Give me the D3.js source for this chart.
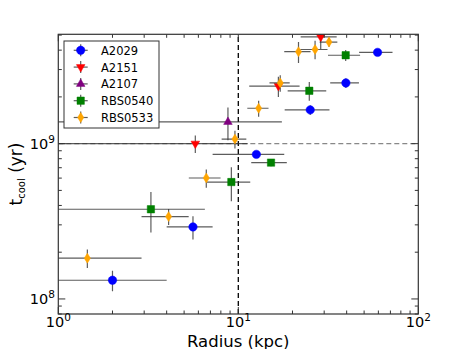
<!DOCTYPE html>
<html>
<head>
<meta charset="utf-8">
<script src="https://cdn.jsdelivr.net/npm/d3@7"></script>
<style>
  body { margin: 0; background: #fff; }
  text { font-family: "DejaVu Sans", sans-serif; fill: #000; }
</style>
</head>
<body>
<div id="chart"></div>
<script>
// values (x in kpc, y in yr)
var a2029X = [2.0, 5.6, 12.6, 25.1, 39.6, 59.4];
var a2029Y = [1.32e8, 2.91e8, 8.53e8, 1.65e9, 2.46e9, 3.87e9];
var a2029Xerr = [2.0, 1.6, 5.4, 7.0, 7.2, 12.5];
var a2029Yerr = [0.2e8, 0.5e8, 0.4e8, 0.12e9, 0.18e9, 0.1e9];

var a2151X = [5.77, 16.7, 28.7];
var a2151Y = [1.0e9, 2.35e9, 4.87e9];
var a2151Xerr = [5.5, 5.2, 6.5];
var a2151Yerr = [0.13e9, 0.35e9, 0.8e9];

var a2107X = [8.76];
var a2107Y = [1.38e9];
var a2107Xerr = [8.7];
var a2107Yerr = [0.33e9];

var rbs0540X = [3.27, 9.15, 15.2, 24.8, 39.5];
var rbs0540Y = [3.78e8, 5.66e8, 7.55e8, 2.19e9, 3.71e9];
var rbs0540Xerr = [3.25, 2.5, 3.4, 6.0, 8.0];
var rbs0540Yerr = [1.1e8, 1.4e8, 0.4e8, 0.3e9, 0.3e9];

var rbs0533X = [1.45, 4.1, 6.64, 9.58, 12.97, 17.1, 21.6, 26.7, 31.9];
var rbs0533Y = [1.83e8, 3.39e8, 6.01e8, 1.07e9, 1.69e9, 2.46e9, 3.91e9, 4.04e9, 4.51e9];
var rbs0533Xerr = [1.45, 1.2, 1.33, 1.5, 1.75, 2.2, 3.6, 4.6, 3.6];
var rbs0533Yerr = [0.25e8, 0.4e8, 0.8e8, 0.14e9, 0.2e9, 0.3e9, 0.6e9, 0.55e9, 0.3e9];

var seriesNames = ['A2029', 'A2151', 'A2107', 'RBS0540', 'RBS0533'];
var xTickExps = [0, 1, 2];
var yTickExps = [8, 9];

var width = 465, height = 349;
var margin = {top: 34.3, right: 46.7, bottom: 35, left: 58.3};

var svg = d3.select('#chart').append('svg')
    .attr('width', width)
    .attr('height', height);

var x = d3.scaleLog().domain([1, 100]).range([margin.left, width - margin.right]);
var y = d3.scaleLog().domain([8e7, 5.06e9]).range([height - margin.bottom, margin.top]);

// marker shapes
var diamond = function (s) {
    return 'M0,' + (-s * 1.6) + 'L' + s + ',0L0,' + (s * 1.6) + 'L' + (-s) + ',0Z';
};
var shapes = {
    circle: d3.symbol(d3.symbolCircle, 56)(),
    tridown: d3.symbol(d3.symbolTriangle, 32)(),
    triup: d3.symbol(d3.symbolTriangle, 32)(),
    square: d3.symbol(d3.symbolSquare, 54)(),
    diamond: diamond(3.1)
};

var series = [
    {name: seriesNames[0], color: '#0000ff', shape: 'circle', x: a2029X, y: a2029Y, xe: a2029Xerr, ye: a2029Yerr},
    {name: seriesNames[1], color: '#ff0000', shape: 'tridown', x: a2151X, y: a2151Y, xe: a2151Xerr, ye: a2151Yerr},
    {name: seriesNames[2], color: '#800080', shape: 'triup', x: a2107X, y: a2107Y, xe: a2107Xerr, ye: a2107Yerr},
    {name: seriesNames[3], color: '#008000', shape: 'square', x: rbs0540X, y: rbs0540Y, xe: rbs0540Xerr, ye: rbs0540Yerr},
    {name: seriesNames[4], color: '#ffa500', shape: 'diamond', x: rbs0533X, y: rbs0533Y, xe: rbs0533Xerr, ye: rbs0533Yerr}
];

svg.append('clipPath').attr('id', 'clip')
    .append('rect')
    .attr('x', margin.left).attr('y', margin.top)
    .attr('width', width - margin.left - margin.right)
    .attr('height', height - margin.top - margin.bottom);

var plot = svg.append('g').attr('clip-path', 'url(#clip)');

// reference lines
plot.append('line')
    .attr('x1', x(1)).attr('x2', x(100))
    .attr('y1', y(1e9)).attr('y2', y(1e9))
    .attr('stroke', '#888').attr('stroke-width', 1.3)
    .attr('stroke-dasharray', '5,3');
plot.append('line')
    .attr('x1', x(10)).attr('x2', x(10))
    .attr('y1', y.range()[0]).attr('y2', y.range()[1])
    .attr('stroke', '#000').attr('stroke-width', 1.3)
    .attr('stroke-dasharray', '5,3');

var xClamp = function (v) { return v <= 0 ? x(0.5) : x(v); };
var yClamp = function (v) { return v <= 0 ? y(1e7) : y(v); };

series.forEach(function (s) {
    var pts = s.x.map(function (d, i) {
        return {x: d, y: s.y[i], xe: s.xe[i], ye: s.ye[i]};
    });
    var g = plot.append('g');

    g.selectAll('.xerr').data(pts).enter().append('line')
        .attr('x1', function (d) { return xClamp(d.x - d.xe); })
        .attr('x2', function (d) { return x(d.x + d.xe); })
        .attr('y1', function (d) { return y(d.y); })
        .attr('y2', function (d) { return y(d.y); })
        .attr('stroke', '#333').attr('stroke-opacity', 0.8).attr('stroke-width', 1.2);

    g.selectAll('.yerr').data(pts).enter().append('line')
        .attr('x1', function (d) { return x(d.x); })
        .attr('x2', function (d) { return x(d.x); })
        .attr('y1', function (d) { return yClamp(d.y - d.ye); })
        .attr('y2', function (d) { return y(d.y + d.ye); })
        .attr('stroke', '#333').attr('stroke-opacity', 0.8).attr('stroke-width', 1.2);

    g.selectAll('.mark').data(pts).enter().append('path')
        .attr('d', shapes[s.shape])
        .attr('transform', function (d) {
            return 'translate(' + x(d.x) + ',' + y(d.y) + ')' + (s.shape === 'tridown' ? ' rotate(180)' : '');
        })
        .attr('fill', s.color)
        .attr('stroke', s.color)
        .attr('stroke-width', 0.5);
});

// axes frame and ticks
var x0 = x.range()[0], x1 = x.range()[1], y0 = y.range()[0], y1 = y.range()[1];
var ticks = svg.append('g').attr('stroke', '#333').attr('stroke-width', 1);

var xMinor = [], yMinor = [];
[1, 10].forEach(function (b) {
    for (var k = 2; k <= 9; k++) xMinor.push(b * k);
});
[1e7, 1e8, 1e9].forEach(function (b) {
    for (var k = 2; k <= 9; k++) {
        var v = b * k;
        if (v >= y.domain()[0] && v <= y.domain()[1]) yMinor.push(v);
    }
});
var xMajor = xTickExps.map(function (e) { return Math.pow(10, e); });
var yMajor = yTickExps.map(function (e) { return Math.pow(10, e); });

var tickSet = function (vals, len) {
    vals.forEach(function (v) {
        ticks.append('line').attr('x1', x(v)).attr('x2', x(v)).attr('y1', y0).attr('y2', y0 - len);
        ticks.append('line').attr('x1', x(v)).attr('x2', x(v)).attr('y1', y1).attr('y2', y1 + len);
    });
};
var tickSetY = function (vals, len) {
    vals.forEach(function (v) {
        ticks.append('line').attr('x1', x0).attr('x2', x0 + len).attr('y1', y(v)).attr('y2', y(v));
        ticks.append('line').attr('x1', x1).attr('x2', x1 - len).attr('y1', y(v)).attr('y2', y(v));
    });
};
tickSet(xMinor, 3.5);
tickSet(xMajor, 7);
tickSetY(yMinor, 3.5);
tickSetY(yMajor, 7);

svg.append('rect')
    .attr('x', x0).attr('y', y1)
    .attr('width', x1 - x0).attr('height', y0 - y1)
    .attr('fill', 'none').attr('stroke', '#333').attr('stroke-width', 1.2);

// tick labels as 10^n
var powLabel = function (sel, e) {
    sel.append('tspan').text('10');
    sel.append('tspan').attr('dy', -6).attr('font-size', 10.5).text(e);
};
xTickExps.forEach(function (e) {
    var t = svg.append('text')
        .attr('x', x(Math.pow(10, e)))
        .attr('y', 327)
        .attr('font-size', 14.5)
        .attr('text-anchor', 'middle');
    powLabel(t, e);
});
yTickExps.forEach(function (e) {
    var t = svg.append('text')
        .attr('x', 55)
        .attr('y', y(Math.pow(10, e)) + 5)
        .attr('font-size', 14.5)
        .attr('text-anchor', 'end');
    powLabel(t, e);
});

// axis titles
svg.append('text')
    .attr('x', (x0 + x1) / 2)
    .attr('y', 346.5)
    .attr('font-size', 16.5)
    .attr('text-anchor', 'middle')
    .text('Radius (kpc)');

var yl = svg.append('text')
    .attr('transform', 'translate(21.5,174) rotate(-90)')
    .attr('font-size', 17)
    .attr('text-anchor', 'middle');
yl.append('tspan').text('t');
yl.append('tspan').attr('font-size', 10).attr('dy', 3).text('cool');
yl.append('tspan').attr('dy', -3).text(' (yr)');

// legend
var legend = svg.append('g').attr('transform', 'translate(64,41)');
legend.append('rect')
    .attr('width', 95).attr('height', 87)
    .attr('fill', '#fff').attr('stroke', '#333').attr('stroke-width', 1);

var items = legend.selectAll('.legend').data(series).enter().append('g')
    .attr('class', 'legend')
    .attr('transform', function (d, i) { return 'translate(16.7,' + (9.3 + i * 16.8) + ')'; });
items.append('line').attr('x1', -7).attr('x2', 7).attr('y1', 0).attr('y2', 0)
    .attr('stroke', '#333').attr('stroke-opacity', 0.8).attr('stroke-width', 1.2);
items.append('line').attr('x1', 0).attr('x2', 0).attr('y1', -6).attr('y2', 6)
    .attr('stroke', '#333').attr('stroke-opacity', 0.8).attr('stroke-width', 1.2);
items.append('path')
    .attr('d', function (d) { return shapes[d.shape]; })
    .attr('transform', function (d) { return d.shape === 'tridown' ? 'rotate(180)' : null; })
    .attr('fill', function (d) { return d.color; })
    .attr('stroke', function (d) { return d.color; })
    .attr('stroke-width', 0.5);
items.append('text')
    .attr('x', 20.3)
    .attr('y', 4.5)
    .attr('font-size', 11.5)
    .text(function (d) { return d.name; });
</script>
</body>
</html>
